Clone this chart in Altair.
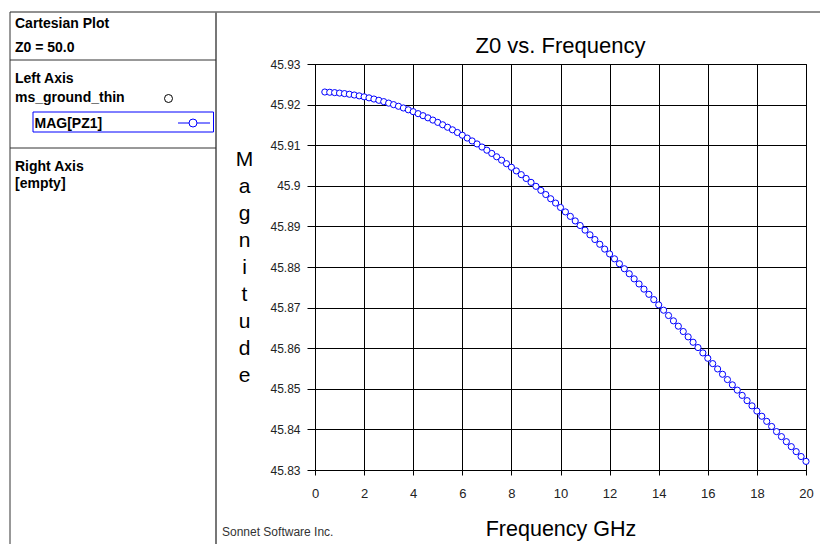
import altair as alt
import pandas as pd

# ---------------- data ----------------
freq_ghz = [
    0.4, 0.6, 0.8, 1.0, 1.2, 1.4, 1.6, 1.8, 2.0, 2.2, 2.4, 2.6, 2.8, 3.0,
    3.2, 3.4, 3.6, 3.8, 4.0, 4.2, 4.4, 4.6, 4.8, 5.0, 5.2, 5.4, 5.6, 5.8,
    6.0, 6.2, 6.4, 6.6, 6.8, 7.0, 7.2, 7.4, 7.6, 7.8, 8.0, 8.2, 8.4, 8.6,
    8.8, 9.0, 9.2, 9.4, 9.6, 9.8, 10.0, 10.2, 10.4, 10.6, 10.8, 11.0, 11.2,
    11.4, 11.6, 11.8, 12.0, 12.2, 12.4, 12.6, 12.8, 13.0, 13.2, 13.4, 13.6,
    13.8, 14.0, 14.2, 14.4, 14.6, 14.8, 15.0, 15.2, 15.4, 15.6, 15.8, 16.0,
    16.2, 16.4, 16.6, 16.8, 17.0, 17.2, 17.4, 17.6, 17.8, 18.0, 18.2, 18.4,
    18.6, 18.8, 19.0, 19.2, 19.4, 19.6, 19.8, 20.0,
]
mag_pz1 = [
    45.92310, 45.92304, 45.92295, 45.92284, 45.92271, 45.92255, 45.92236,
    45.92215, 45.92192, 45.92166, 45.92137, 45.92106, 45.92073, 45.92037,
    45.91999, 45.91959, 45.91917, 45.91872, 45.91826, 45.91777, 45.91727,
    45.91674, 45.91619, 45.91562, 45.91503, 45.91442, 45.91379, 45.91313,
    45.91246, 45.91176, 45.91105, 45.91031, 45.90955, 45.90877, 45.90797,
    45.90715, 45.90631, 45.90545, 45.90457, 45.90367, 45.90275, 45.90181,
    45.90085, 45.89987, 45.89887, 45.89785, 45.89681, 45.89575, 45.89467,
    45.89357, 45.89247, 45.89135, 45.89022, 45.88908, 45.88793, 45.88677,
    45.88560, 45.88441, 45.88322, 45.88201, 45.88080, 45.87957, 45.87833,
    45.87708, 45.87582, 45.87455, 45.87327, 45.87197, 45.87067, 45.86936,
    45.86805, 45.86674, 45.86542, 45.86411, 45.86279, 45.86147, 45.86016,
    45.85884, 45.85752, 45.85620, 45.85489, 45.85358, 45.85227, 45.85097,
    45.84967, 45.84838, 45.84708, 45.84580, 45.84452, 45.84324, 45.84198,
    45.84072, 45.83946, 45.83822, 45.83698, 45.83575, 45.83453, 45.83332,
    45.83212,
]
x_ticks = [0, 2, 4, 6, 8, 10, 12, 14, 16, 18, 20]
y_ticks = [45.83, 45.84, 45.85, 45.86, 45.87, 45.88, 45.89, 45.90, 45.91, 45.92, 45.93]
y_title_letters = ["M", "a", "g", "n", "i", "t", "u", "d", "e"]

df = pd.DataFrame({"freq": freq_ghz, "mag": mag_pz1})

FONT = "Liberation Sans"
BLUE = "#0000ff"
W, H = 491, 406

x_enc = alt.X(
    "freq:Q",
    scale=alt.Scale(domain=[0, 20], nice=False, zero=False),
    axis=alt.Axis(
        values=x_ticks, labelFont=FONT, labelFontSize=13, labelColor="#222",
        labelPadding=12, tickSize=5, tickColor="black", domainColor="black",
        gridColor="black", gridOpacity=1, labelOverlap=False, labelFlush=False,
        title="Frequency GHz", titleFont=FONT, titleFontSize=21.5,
        titleFontWeight="normal", titleColor="black", titleX=W / 2, titleY=59,
        titleAlign="center", titleBaseline="middle",
    ),
)
y_enc = alt.Y(
    "mag:Q",
    scale=alt.Scale(domain=[45.83, 45.93], nice=False, zero=False),
    axis=alt.Axis(
        values=y_ticks, format=".2~f", labelFont=FONT, labelFontSize=12,
        labelColor="#222", labelPadding=7, tickSize=8, tickColor="black",
        domainColor="black", gridColor="black", gridOpacity=1,
        labelOverlap=False, labelFlush=False,
        title=y_title_letters, titleFont=FONT, titleFontSize=21,
        titleFontWeight="normal", titleColor="black", titleAngle=0,
        titleX=-71, titleY=95, titleAlign="center", titleBaseline="middle",
        titleLineHeight=27,
    ),
)

base = alt.Chart(df)
curve = base.mark_line(color=BLUE, strokeWidth=1).encode(x=x_enc, y=y_enc)
points = base.mark_circle(
    color="white", stroke=BLUE, strokeWidth=1, size=38, opacity=1
).encode(x="freq:Q", y="mag:Q")

one = alt.Data(values=[{}])


def rule(x1, y1, x2, y2, color="#222", width=1):
    return alt.Chart(one).mark_rule(color=color, strokeWidth=width).encode(
        x=alt.value(x1), y=alt.value(y1), x2=alt.value(x2), y2=alt.value(y2)
    )


def label(txt, x, y, size=14, weight="bold", color="black", align="left",
          baseline="alphabetic"):
    return alt.Chart(one).mark_text(
        text=txt, font=FONT, fontSize=size, fontWeight=weight, color=color,
        align=align, baseline=baseline,
    ).encode(x=alt.value(x), y=alt.value(y))


# left information panel and annotations (positions relative to plot origin)
decor = [
    rule(-305, -52, 507, -52, "#222", 1),      # top line
    rule(-305, -52, -305, 480, "#333", 1),     # left border
    rule(-99, -52, -99, 480, "#777", 2),       # panel right border
    rule(-305, -4, -99, -4, "#333", 1),        # divider 1
    rule(-305, 84, -99, 84, "#333", 1),        # divider 2
    label("Cartesian Plot", -300, -35.7),
    label("Z0 = 50.0", -300, -12.3),
    label("Left Axis", -300, 19.3),
    label("ms_ground_thin", -300, 38),
    label("MAG[PZ1]", -280.5, 64.3),
    label("Right Axis", -300, 107),
    label("[empty]", -300, 124.3),
    alt.Chart(one).mark_point(shape="circle", size=64, stroke="black",
                              strokeWidth=1, filled=False,
                              opacity=1).encode(x=alt.value(-146.5), y=alt.value(34.5)),
    alt.Chart(one).mark_rect(stroke=BLUE, strokeWidth=1, fill="white",
                             fillOpacity=0).encode(
        x=alt.value(-282), x2=alt.value(-101.5), y=alt.value(48), y2=alt.value(68)),
    rule(-137, 59, -105, 59, BLUE, 1),
    alt.Chart(one).mark_circle(color="white", stroke=BLUE, strokeWidth=1,
                               size=64, opacity=1).encode(x=alt.value(-122), y=alt.value(59)),
    label("Sonnet Software Inc.", -93, 472, size=12, weight="normal", color="#333"),
    label("Z0 vs. Frequency", W / 2, -18, size=22, weight="normal",
          align="center", baseline="middle"),
]

chart = alt.layer(*decor, curve, points).properties(
    width=W,
    height=H,
    autosize="none",
    padding={"left": 307, "top": 56, "right": 14, "bottom": 76},
).configure_view(stroke="black", strokeWidth=1).configure_axis(
    gridWidth=1, domainWidth=1, tickWidth=1
)

chart.save("out.html", embed_options={"renderer": "svg", "actions": False})
